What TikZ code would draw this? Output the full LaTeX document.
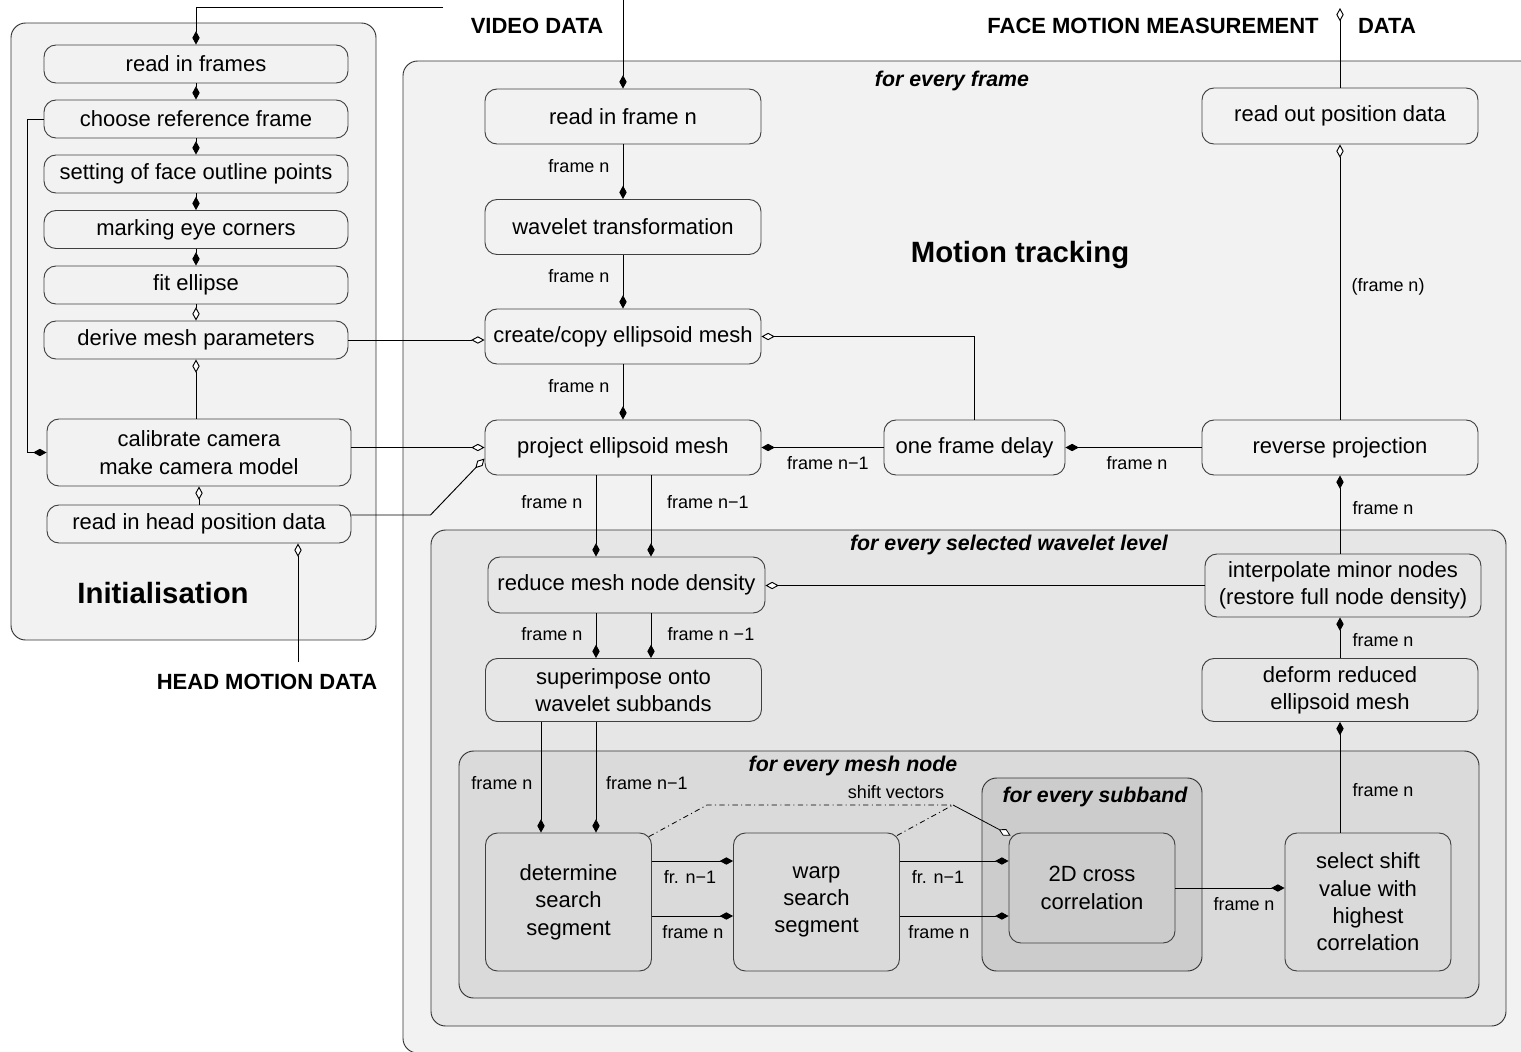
\documentclass[tikz,border=0pt]{standalone}
\usepackage{fontspec}
\setmainfont{Liberation Sans}
\usetikzlibrary{arrows.meta,calc}

\definecolor{bgA}{RGB}{242,242,242}
\definecolor{bgB}{RGB}{230,230,230}
\definecolor{bgC}{RGB}{218,218,218}
\definecolor{bgD}{RGB}{204,204,204}

\tikzset{
  proc/.style={draw=black!75, line width=0.7pt, rounded corners=9pt, align=center,
    inner sep=0pt, font=\fontsize{16.5}{20.5}\selectfont},
  size/.style 2 args={minimum width=#1*0.75pt, minimum height=#2*0.75pt},
  lbl/.style={inner sep=0pt, font=\fontsize{13.5}{16}\selectfont},
  iolbl/.style={inner sep=0pt, font=\fontsize{16.5}{20}\selectfont\bfseries},
  forlbl/.style={inner sep=0pt, font=\fontsize{16}{20}\selectfont\bfseries\itshape},
  bigtitle/.style={inner sep=0pt, font=\fontsize{22}{26}\selectfont\bfseries},
  area/.style={draw=black!80, line width=0.7pt, rounded corners=11pt},
  fd/.style={-{Diamond[length=10pt,width=5.5pt]}, line width=0.7pt},
  od/.style={-{Diamond[length=10pt,width=5.5pt,fill=white]}, line width=0.7pt},
  dashdot/.style={line width=0.6pt, dash pattern=on 4pt off 2.5pt on 0.8pt off 2.5pt},
}

\begin{document}
\begin{tikzpicture}[x=0.75pt,y=0.75pt,yscale=-1,xscale=1]
\clip (0,0) rectangle (1521,1051);

% areas
\draw[area, fill=bgA] (11,23) rectangle (376,640);
\draw[area, fill=bgA] (403,61) rectangle (1545,1053);
\draw[area, fill=bgB] (431,530) rectangle (1506,1026);
\draw[area, fill=bgC] (459,751) rectangle (1479,998);
\draw[area, fill=bgD] (982,778) rectangle (1202,971);

% area titles
\node[bigtitle] (tinit) at (163,593) {Initialisation};
\node[bigtitle] (tmot) at (1020,255) {Motion tracking};
\node[forlbl] (fframe) at (952,81) {for every frame};
\node[forlbl] (flevel) at (1009,545) {for every selected wavelet level};
\node[forlbl] (fnode) at (853,766) {for every mesh node};
\node[forlbl] (fband) at (1095,797) {for every subband};

% data in / out
\node[iolbl] (vdata) at (537,26) {VIDEO DATA};
\node[iolbl] (fdata) at (1153,26) {FACE MOTION MEASUREMENT};
\node[iolbl] (fdata2) at (1387,26) {DATA};
\node[iolbl] (hdata) at (267,682) {HEAD MOTION DATA};

% initialisation steps
\node[proc, size={304}{38}] (rf) at (196,64) {read in frames};
\node[proc, size={304}{38}] (crf) at (196,119) {choose reference frame};
\node[proc, size={304}{38}] (sfo) at (196,174) {setting of face outline points};
\node[proc, size={304}{38}] (mec) at (196,229.5) {marking eye corners};
\node[proc, size={304}{38}] (fe) at (196,285) {fit ellipse};
\node[proc, size={304}{38}] (dmp) at (196,340) {derive mesh parameters};
\node[proc, size={304}{67}] (cal) at (199,452.5) {calibrate camera\\make camera model};
\node[proc, size={304}{38}] (rhp) at (199,524) {read in head position data};

% motion tracking steps
\node[proc, size={276}{55}] (rfn) at (623,116.5) {read in frame n};
\node[proc, size={276}{55}] (wt) at (623,227) {wavelet transformation};
\node[proc, size={276}{55}] (cce) at (623,336.5) {create/copy ellipsoid mesh};
\node[proc, size={276}{55}] (pem) at (623,447.5) {project ellipsoid mesh};
\node[proc, size={181}{55}] (ofd) at (974.5,447.5) {one frame delay};
\node[proc, size={276}{55}] (rev) at (1340,447.5) {reverse projection};
\node[proc, size={276}{56}] (rop) at (1340,116) {read out position data};
\node[proc, size={277}{56}] (red) at (626.5,585) {reduce mesh node density};
\node[proc, size={276}{63}] (imn) at (1343,585.5) {interpolate minor nodes\\(restore full node density)};
\node[proc, size={276}{63}] (sup) at (623.5,690) {superimpose onto\\wavelet subbands};
\node[proc, size={276}{63}] (def) at (1340,690) {deform reduced\\ellipsoid mesh};
\node[proc, size={166}{138}] (det) at (568.5,902) {determine\\search\\segment};
\node[proc, size={166}{138}] (wss) at (816.5,902) {warp\\search\\segment};
\node[proc, size={166}{110}] (xc) at (1092,888) {2D cross\\correlation};
\node[proc, size={166}{138}] (sel) at (1368,902) {select shift\\value with\\highest\\correlation};

% connector labels
\node[lbl] (lA) at (579,166) {frame n};
\node[lbl] (lB) at (579,276) {frame n};
\node[lbl] (lC) at (579,386) {frame n};
\node[lbl] (lD) at (828,463) {frame n−1};
\node[lbl] (lE) at (1137,463) {frame n};
\node[lbl] (lF) at (1388,287) {(frame n)};
\node[lbl] (lG) at (552,502) {frame n};
\node[lbl] (lH) at (708,502) {frame n−1};
\node[lbl] (lI) at (1383,508) {frame n};
\node[lbl] (lJ) at (552,634) {frame n};
\node[lbl] (lK) at (711,634) {frame n −1};
\node[lbl] (lL) at (1383,640) {frame n};
\node[lbl] (lM) at (502,783) {frame n};
\node[lbl] (lN) at (647,783) {frame n−1};
\node[lbl] (lO) at (1383,790) {frame n};
\node[lbl] (lP) at (896,792) {shift vectors};
\node[lbl] (lQ) at (690,877) {fr. n−1};
\node[lbl] (lR) at (693,932) {frame n};
\node[lbl] (lS) at (938,877) {fr. n−1};
\node[lbl] (lT) at (939,932) {frame n};
\node[lbl] (lU) at (1244,904) {frame n};

% free ends
\coordinate (vtop) at (443,7);
\coordinate (vin) at (623,0);
\coordinate (fout) at (1340,8);
\coordinate (hin) at (298,662);
\coordinate (sv) at (953,805);

% initialisation flow
\draw[fd] (vtop) -- (vtop -| rf.north) -- (rf.north);
\draw[fd] (rf) -- (crf);
\draw[fd] (crf) -- (sfo);
\draw[fd] (sfo) -- (mec);
\draw[fd] (mec) -- (fe);
\draw[od] (fe) -- (dmp);
\draw[od] (cal.north -| dmp.south) -- (dmp.south);
\draw[od] (rhp.north) -- (cal.south);
\draw[fd] (crf.west) -- ++(-16,0) |- (cal.west);
\draw[od] (hin) -- (hin |- rhp.south);

% into motion tracking
\draw[od] (dmp.east) -- (dmp.east -| cce.west);
\draw[od] (cal.east |- pem.west) -- (pem.west);
\draw[od] ($(rhp.east)+(0,-9)$) -- ++(79,0) -- ($(pem.west)+(0,11)$);

% per frame loop
\draw[fd] (vin) -- (rfn.north);
\draw[fd] (rfn) -- (wt);
\draw[fd] (wt) -- (cce);
\draw[fd] (cce) -- (pem);
\draw[fd] (ofd.west) -- (pem.east);
\draw[od] (ofd.north) |- (cce.east);
\draw[fd] (rev.west) -- (ofd.east);
\draw[od] (rev) -- (rop);
\draw[od] (rop.north) -- (fout);

% per level loop
\draw[fd] (pem.south) ++(-27,0) coordinate (p1) -- (p1 |- red.north);
\draw[fd] (pem.south) ++(28,0) coordinate (p2) -- (p2 |- red.north);
\draw[fd] (p1 |- red.south) -- (p1 |- sup.north);
\draw[fd] (p2 |- red.south) -- (p2 |- sup.north);
\draw[od] (imn.west) -- (imn.west -| red.east);
\draw[fd] (rev.south |- imn.north) -- (rev.south);
\draw[fd] (def.north) -- (def.north |- imn.south);

% per mesh node
\path (det.north) ++(-27.5,0) coordinate (d1) (det.north) ++(27.5,0) coordinate (d2);
\draw[fd] (d1 |- sup.south) -- (d1);
\draw[fd] (d2 |- sup.south) -- (d2);
\draw[fd] ($(det.east)+(0,-41)$) coordinate (w1) -- (w1 -| wss.west);
\draw[fd] ($(det.east)+(0,14)$) coordinate (w2) -- (w2 -| wss.west);
\draw[fd] (w1 -| wss.east) -- (w1 -| xc.west);
\draw[fd] (w2 -| wss.east) -- (w2 -| xc.west);
\draw[fd] (xc.east) -- (xc.east -| sel.west);
\draw[fd] (def.south |- sel.north) -- (def.south);

% shift vectors
\draw[dashdot] ($(det.north east)+(-3,4)$) -- (707,805) -- (sv)
  ($(wss.north east)+(-3,3)$) -- (sv);
\draw[od, line width=0.6pt] (sv) -- ($(xc.north west)+(2,3)$);

\end{tikzpicture}
\end{document}
